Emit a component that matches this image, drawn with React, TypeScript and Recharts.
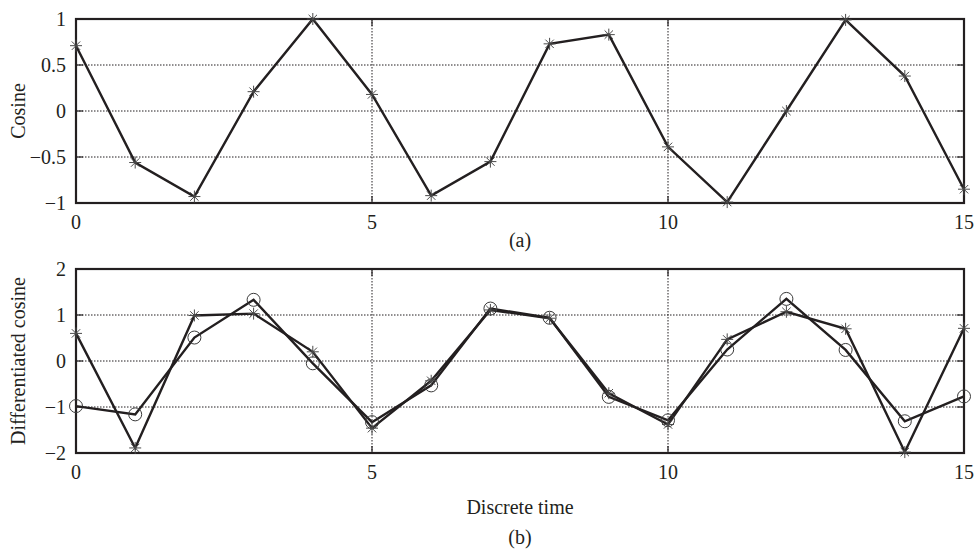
import { LineChart, Line, XAxis, YAxis, CartesianGrid } from 'recharts'

// discrete time index
const timeSteps = [0, 1, 2, 3, 4, 5, 6, 7, 8, 9, 10, 11, 12, 13, 14, 15]

// (a) cosine samples
const cosine = [0.71, -0.56, -0.93, 0.21, 1.0, 0.18, -0.92, -0.55, 0.73, 0.83, -0.39, -0.99, 0.0, 0.99, 0.38, -0.85]

// (b) differentiated cosine, two estimates
const diffStar = [0.6, -1.89, 0.99, 1.03, 0.2, -1.46, -0.43, 1.11, 0.93, -0.7, -1.38, 0.47, 1.07, 0.7, -1.98, 0.71]
const diffCircle = [-0.98, -1.16, 0.51, 1.33, -0.05, -1.33, -0.53, 1.14, 0.94, -0.78, -1.29, 0.25, 1.35, 0.24, -1.31, -0.77]

const xTicks = [0, 5, 10, 15]
const topYTicks = [-1, -0.5, 0, 0.5, 1]
const bottomYTicks = [-2, -1, 0, 1, 2]

const topData = timeSteps.map((n, i) => ({ n, cosine: cosine[i] }))
const bottomData = timeSteps.map((n, i) => ({ n, star: diffStar[i], circle: diffCircle[i] }))

const INK = '#231f20'
const FONT = '"Liberation Serif", "Times New Roman", serif'
const W = 976
const H = 250
const MARGIN = { top: 19, right: 12, bottom: 17, left: 16 }
const X_AXIS_H = 30
const PLOT_LEFT = MARGIN.left + 60
const PLOT_RIGHT = W - MARGIN.right
const PLOT_TOP = MARGIN.top
const PLOT_BOTTOM = H - MARGIN.bottom - X_AXIS_H
const TICK_LEN = 7

const fmt = (v: number) => (v < 0 ? '\u2212' + Math.abs(v) : String(v))

function XTick(props: any) {
  const { x, y, payload } = props
  return (
    <g>
      <line x1={x} x2={x} y1={PLOT_BOTTOM} y2={PLOT_BOTTOM - TICK_LEN} stroke={INK} strokeWidth={1.2} />
      <line x1={x} x2={x} y1={PLOT_TOP} y2={PLOT_TOP + TICK_LEN} stroke={INK} strokeWidth={1.2} />
      <text x={x} y={y} dy="0.71em" textAnchor="middle" fill={INK} stroke="none" fontFamily={FONT} fontSize={20}>
        {payload.value}
      </text>
    </g>
  )
}

function YTick(props: any) {
  const { x, y, payload } = props
  return (
    <g>
      <line x1={PLOT_LEFT} x2={PLOT_LEFT + TICK_LEN} y1={y} y2={y} stroke={INK} strokeWidth={1.2} />
      <line x1={PLOT_RIGHT} x2={PLOT_RIGHT - TICK_LEN} y1={y} y2={y} stroke={INK} strokeWidth={1.2} />
      <text x={x} y={y} dy="0.35em" textAnchor="end" fill={INK} stroke="none" fontFamily={FONT} fontSize={20}>
        {fmt(payload.value)}
      </text>
    </g>
  )
}

function StarDot(props: any) {
  const { cx, cy } = props
  if (cx == null || cy == null) return null
  const r = 6
  const d = r * 0.7
  return (
    <g stroke="#4a4a4a" strokeWidth={1}>
      <line x1={cx - r} x2={cx + r} y1={cy} y2={cy} />
      <line x1={cx} x2={cx} y1={cy - r} y2={cy + r} />
      <line x1={cx - d} x2={cx + d} y1={cy - d} y2={cy + d} />
      <line x1={cx - d} x2={cx + d} y1={cy + d} y2={cy - d} />
    </g>
  )
}

function CircleDot(props: any) {
  const { cx, cy } = props
  if (cx == null || cy == null) return null
  return <circle cx={cx} cy={cy} r={6.5} fill="none" stroke="#3a3a3a" strokeWidth={1} />
}

const labelStyle = { textAnchor: 'middle' as const, fontFamily: FONT, fontSize: 20, fill: INK, stroke: 'none' }

function Panel({ data, yTicks, yLabel, series }: { data: any[]; yTicks: number[]; yLabel: string; series: { key: string; dot: any }[] }) {
  const lo = yTicks[0]
  const hi = yTicks[yTicks.length - 1]
  return (
    <LineChart width={W} height={H} data={data} margin={MARGIN}>
      <CartesianGrid stroke={INK} strokeDasharray="1.5 1.5" strokeWidth={1} />
      <XAxis
        dataKey="n"
        type="number"
        domain={[0, 15]}
        ticks={xTicks}
        height={X_AXIS_H}
        axisLine={false}
        tickLine={false}
        tickSize={6}
        tickMargin={6}
        tick={<XTick />}
      />
      <YAxis
        type="number"
        domain={[lo, hi]}
        ticks={yTicks}
        width={60}
        axisLine={false}
        tickLine={false}
        tickSize={6}
        tickMargin={4}
        tick={<YTick />}
        label={{ value: yLabel, angle: -90, position: 'insideLeft', offset: 2, style: labelStyle }}
      />
      {series.map(s => (
        <Line
          key={s.key}
          dataKey={s.key}
          type="linear"
          stroke={INK}
          strokeWidth={2.4}
          dot={s.dot}
          activeDot={false}
          isAnimationActive={false}
        />
      ))}
      {/* axes box */}
      <rect
        x={PLOT_LEFT}
        y={PLOT_TOP}
        width={PLOT_RIGHT - PLOT_LEFT}
        height={PLOT_BOTTOM - PLOT_TOP}
        fill="none"
        stroke={INK}
        strokeWidth={2.2}
      />
    </LineChart>
  )
}

const captionStyle = {
  position: 'absolute' as const,
  left: PLOT_LEFT,
  width: PLOT_RIGHT - PLOT_LEFT,
  textAlign: 'center' as const,
  fontFamily: FONT,
  fontSize: 20,
  lineHeight: '20px',
  color: INK,
}

export default function App() {
  return (
    <div style={{ position: 'absolute', left: 0, top: 0, width: 976, height: 549, background: '#fff' }}>
      <div style={{ position: 'absolute', left: 0, top: 0 }}>
        <Panel
          data={topData}
          yTicks={topYTicks}
          yLabel="Cosine"
          series={[{ key: 'cosine', dot: (p: any) => <StarDot key={`a-${p.index}`} {...p} /> }]}
        />
      </div>
      <div style={{ ...captionStyle, top: 230 }}>(a)</div>
      <div style={{ position: 'absolute', left: 0, top: 250 }}>
        <Panel
          data={bottomData}
          yTicks={bottomYTicks}
          yLabel="Differentiated cosine"
          series={[
            { key: 'circle', dot: (p: any) => <CircleDot key={`c-${p.index}`} {...p} /> },
            { key: 'star', dot: (p: any) => <StarDot key={`s-${p.index}`} {...p} /> },
          ]}
        />
      </div>
      <div style={{ ...captionStyle, top: 497 }}>Discrete time</div>
      <div style={{ ...captionStyle, top: 527 }}>(b)</div>
    </div>
  )
}
